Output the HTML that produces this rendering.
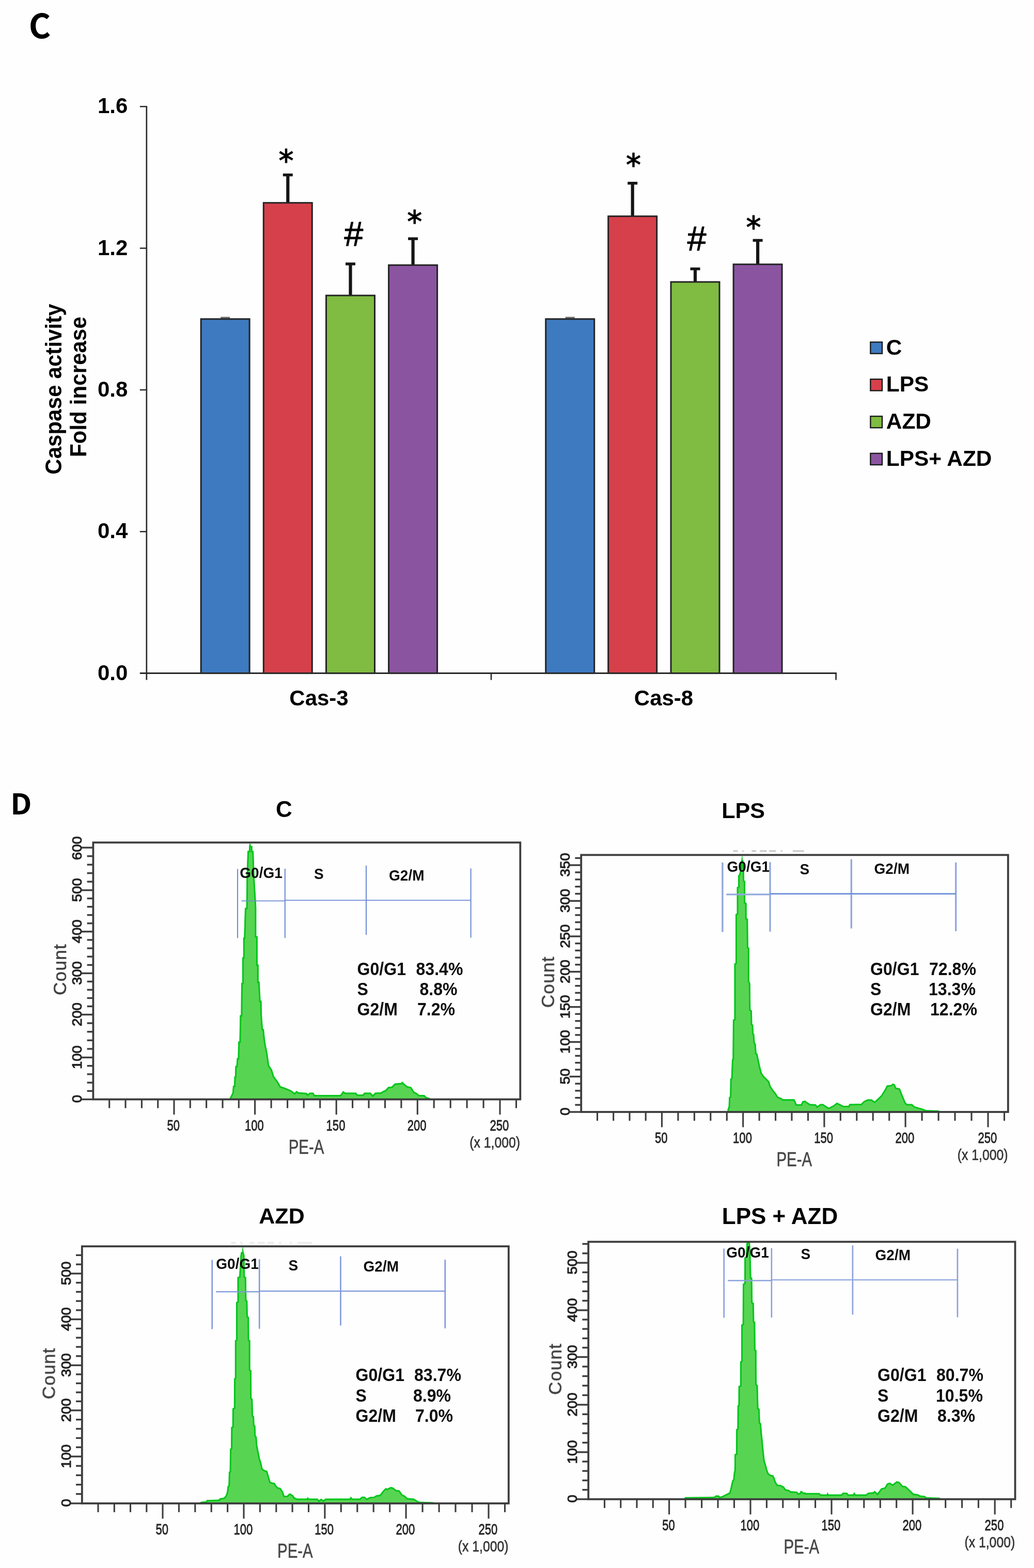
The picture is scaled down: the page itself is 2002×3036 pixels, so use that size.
<!DOCTYPE html>
<html lang="en"><head><meta charset="utf-8"><title>Figure C-D</title>
<style>html,body{margin:0;padding:0;background:#fff}body{width:2002px;height:3036px}svg{display:block;filter:blur(0.6px)}text{white-space:pre}</style>
</head><body>
<svg width="2002" height="3036" viewBox="0 0 2002 3036">
<defs><filter id="hb" x="-5%" y="-5%" width="110%" height="110%"><feGaussianBlur stdDeviation="0.5"/></filter></defs>
<rect x="-10" y="-10" width="2022" height="3056" fill="#fefefe"/>
<g id="panel-c">
<text transform="translate(55.8 74.4)" font-family="'Noto Sans CJK SC', 'Noto Sans CJK JP', 'Liberation Sans', sans-serif" font-size="65" font-weight="bold" fill="#000" text-anchor="start">C</text>
<line x1="283.8" y1="205.3" x2="283.8" y2="1316.6" stroke="#2a2a2a" stroke-width="2.7"/>
<line x1="270.8" y1="1303.6" x2="1619.8" y2="1303.6" stroke="#2a2a2a" stroke-width="3"/>
<line x1="951" y1="1303.6" x2="951" y2="1316.6" stroke="#2a2a2a" stroke-width="2.6"/>
<line x1="1618.6" y1="1303.6" x2="1618.6" y2="1316.6" stroke="#2a2a2a" stroke-width="2.6"/>
<text transform="translate(247.3 1316.6)" font-family="'Liberation Sans', Arial, Helvetica, sans-serif" font-size="42" font-weight="bold" fill="#000" text-anchor="end">0.0</text>
<line x1="270.8" y1="1029.3" x2="283.8" y2="1029.3" stroke="#2a2a2a" stroke-width="2.5"/>
<text transform="translate(247.3 1042.3)" font-family="'Liberation Sans', Arial, Helvetica, sans-serif" font-size="42" font-weight="bold" fill="#000" text-anchor="end">0.4</text>
<line x1="270.8" y1="754.9" x2="283.8" y2="754.9" stroke="#2a2a2a" stroke-width="2.5"/>
<text transform="translate(247.3 767.9)" font-family="'Liberation Sans', Arial, Helvetica, sans-serif" font-size="42" font-weight="bold" fill="#000" text-anchor="end">0.8</text>
<line x1="270.8" y1="480.6" x2="283.8" y2="480.6" stroke="#2a2a2a" stroke-width="2.5"/>
<text transform="translate(247.3 493.6)" font-family="'Liberation Sans', Arial, Helvetica, sans-serif" font-size="42" font-weight="bold" fill="#000" text-anchor="end">1.2</text>
<line x1="270.8" y1="206.3" x2="283.8" y2="206.3" stroke="#2a2a2a" stroke-width="2.5"/>
<text transform="translate(247.3 219.3)" font-family="'Liberation Sans', Arial, Helvetica, sans-serif" font-size="42" font-weight="bold" fill="#000" text-anchor="end">1.6</text>
<line x1="427.1" y1="615" x2="445.1" y2="615" stroke="#6a6a6a" stroke-width="3"/>
<rect x="389.1" y="617.7" width="94" height="685.9" fill="#3d7abf" stroke="#242424" stroke-width="3"/>
<line x1="557.3" y1="338.5" x2="557.3" y2="392.2" stroke="#151515" stroke-width="6.2"/>
<line x1="547.8" y1="338.7" x2="566.8" y2="338.7" stroke="#151515" stroke-width="5.4"/>
<rect x="510.3" y="392.7" width="94" height="910.9" fill="#d6404b" stroke="#242424" stroke-width="3"/>
<line x1="678.5" y1="510.8" x2="678.5" y2="571.6" stroke="#151515" stroke-width="6.2"/>
<line x1="669" y1="511" x2="688" y2="511" stroke="#151515" stroke-width="5.4"/>
<rect x="631.5" y="572.1" width="94" height="731.5" fill="#7fbc41" stroke="#242424" stroke-width="3"/>
<line x1="799.6" y1="462" x2="799.6" y2="512.8" stroke="#151515" stroke-width="6.2"/>
<line x1="790.1" y1="462.2" x2="809.1" y2="462.2" stroke="#151515" stroke-width="5.4"/>
<rect x="752.6" y="513.3" width="94" height="790.3" fill="#8b54a0" stroke="#242424" stroke-width="3"/>
<line x1="1094.7" y1="615" x2="1112.7" y2="615" stroke="#6a6a6a" stroke-width="3"/>
<rect x="1056.7" y="617.7" width="94" height="685.9" fill="#3d7abf" stroke="#242424" stroke-width="3"/>
<line x1="1224.7" y1="354.5" x2="1224.7" y2="418.2" stroke="#151515" stroke-width="6.2"/>
<line x1="1215.2" y1="354.7" x2="1234.2" y2="354.7" stroke="#151515" stroke-width="5.4"/>
<rect x="1177.7" y="418.7" width="94" height="884.9" fill="#d6404b" stroke="#242424" stroke-width="3"/>
<line x1="1346" y1="520.4" x2="1346" y2="545.4" stroke="#151515" stroke-width="6.2"/>
<line x1="1336.5" y1="520.6" x2="1355.5" y2="520.6" stroke="#151515" stroke-width="5.4"/>
<rect x="1299" y="545.9" width="94" height="757.7" fill="#7fbc41" stroke="#242424" stroke-width="3"/>
<line x1="1467.1" y1="465.2" x2="1467.1" y2="511.3" stroke="#151515" stroke-width="6.2"/>
<line x1="1457.6" y1="465.4" x2="1476.6" y2="465.4" stroke="#151515" stroke-width="5.4"/>
<rect x="1420.1" y="511.8" width="94" height="791.8" fill="#8b54a0" stroke="#242424" stroke-width="3"/>
<line x1="283.8" y1="1303.6" x2="1619.8" y2="1303.6" stroke="#2a2a2a" stroke-width="3"/>
<text transform="translate(554 332.3)" font-family="'DejaVu Sans', 'Liberation Sans', sans-serif" font-size="58" font-weight="normal" fill="#000" text-anchor="middle" stroke="#000" stroke-width="1.3" stroke-linejoin="round">*</text>
<text transform="translate(802.8 450)" font-family="'DejaVu Sans', 'Liberation Sans', sans-serif" font-size="58" font-weight="normal" fill="#000" text-anchor="middle" stroke="#000" stroke-width="1.3" stroke-linejoin="round">*</text>
<text transform="translate(1226.4 340)" font-family="'DejaVu Sans', 'Liberation Sans', sans-serif" font-size="58" font-weight="normal" fill="#000" text-anchor="middle" stroke="#000" stroke-width="1.3" stroke-linejoin="round">*</text>
<text transform="translate(1459 460.5)" font-family="'DejaVu Sans', 'Liberation Sans', sans-serif" font-size="58" font-weight="normal" fill="#000" text-anchor="middle" stroke="#000" stroke-width="1.3" stroke-linejoin="round">*</text>
<text transform="translate(684.8 475.8)" font-family="'Liberation Sans', Arial, Helvetica, sans-serif" font-size="66" font-weight="normal" fill="#000" text-anchor="middle" stroke="#000" stroke-width="1.2" stroke-linejoin="round">#</text>
<text transform="translate(1349 485.3)" font-family="'Liberation Sans', Arial, Helvetica, sans-serif" font-size="66" font-weight="normal" fill="#000" text-anchor="middle" stroke="#000" stroke-width="1.2" stroke-linejoin="round">#</text>
<text transform="translate(118.8 753.5) rotate(-90) scale(0.970 1)" font-family="'Liberation Sans', Arial, Helvetica, sans-serif" font-size="43.5" font-weight="bold" fill="#000" text-anchor="middle">Caspase activity</text>
<text transform="translate(167.3 749) rotate(-90) scale(0.970 1)" font-family="'Liberation Sans', Arial, Helvetica, sans-serif" font-size="43.5" font-weight="bold" fill="#000" text-anchor="middle">Fold increase</text>
<text transform="translate(617.5 1366)" font-family="'Liberation Sans', Arial, Helvetica, sans-serif" font-size="42" font-weight="bold" fill="#000" text-anchor="middle">Cas-3</text>
<text transform="translate(1285 1366)" font-family="'Liberation Sans', Arial, Helvetica, sans-serif" font-size="42" font-weight="bold" fill="#000" text-anchor="middle">Cas-8</text>
<rect x="1685.4" y="662.4" width="22.6" height="22.2" fill="#3d7abf" stroke="#1a1a1a" stroke-width="2.4"/>
<text transform="translate(1715.8 686.5) scale(1.010 1)" font-family="'Liberation Sans', Arial, Helvetica, sans-serif" font-size="42" font-weight="bold" fill="#000" text-anchor="start">C</text>
<rect x="1685.4" y="734.2" width="22.6" height="22.2" fill="#d6404b" stroke="#1a1a1a" stroke-width="2.4"/>
<text transform="translate(1715.8 758.3) scale(1.010 1)" font-family="'Liberation Sans', Arial, Helvetica, sans-serif" font-size="42" font-weight="bold" fill="#000" text-anchor="start">LPS</text>
<rect x="1685.4" y="806" width="22.6" height="22.2" fill="#7fbc41" stroke="#1a1a1a" stroke-width="2.4"/>
<text transform="translate(1715.8 830.1) scale(1.010 1)" font-family="'Liberation Sans', Arial, Helvetica, sans-serif" font-size="42" font-weight="bold" fill="#000" text-anchor="start">AZD</text>
<rect x="1685.4" y="877.8" width="22.6" height="22.2" fill="#8b54a0" stroke="#1a1a1a" stroke-width="2.4"/>
<text transform="translate(1715.8 901.9) scale(1.010 1)" font-family="'Liberation Sans', Arial, Helvetica, sans-serif" font-size="42" font-weight="bold" fill="#000" text-anchor="start">LPS+ AZD</text>
</g>
<text transform="translate(20.3 1577.4) scale(1.030 1)" font-family="'Noto Sans CJK SC', 'Noto Sans CJK JP', 'Liberation Sans', sans-serif" font-size="56" font-weight="bold" fill="#000" text-anchor="start">D</text>
<g id="hist-1">
<text transform="translate(550 1582.2)" font-family="'Liberation Sans', Arial, Helvetica, sans-serif" font-size="44" font-weight="bold" fill="#000" text-anchor="middle">C</text>
<g filter="url(#hb)">
<clipPath id="hc1"><path d="M444 2130 L444 2127.4 L449.8 2116 L451 2101.9 L453 2101.9 L453.6 2084.1 L454.9 2084.1 L455.5 2063.7 L457.4 2063.7 L458.7 2048.4 L460.4 2048.4 L461.2 2016.5 L463.4 2016.5 L464.4 1965.5 L466.4 1965.5 L467 1903 L468.9 1903 L468.9 1879.9 L468.9 1853.4 L470.8 1853.4 L470.8 1815.2 L472.3 1815.2 L474 1757.8 L476.6 1757.8 L477.2 1702.9 L479.1 1647.4 L481.7 1647.4 L482.3 1637.9 L483.6 1631.5 L483.8 1631.5 L486.1 1637.9 L488.7 1637.9 L488.7 1647.4 L491 1647.4 L493.1 1702.9 L495.7 1745 L496.3 1757.8 L496.3 1812.6 L498.9 1812.6 L498.9 1867.4 L500.8 1867.4 L500.8 1879.9 L500.8 1900.4 L502.7 1900.4 L504.6 1937.4 L506.5 1937.4 L507.2 1966.7 L509.1 1992.2 L511 1992.2 L512.9 2011.4 L514.8 2024.1 L518 2039.4 L521.2 2062.4 L526.9 2071.3 L530.8 2084.1 L538.4 2094.3 L543.5 2103.2 L551.2 2105.8 L563.9 2110.9 L570.3 2116 L574.1 2112.1 L578 2114.7 L594.5 2116 L595.6 2118.4 L599.8 2115.6 L606.8 2115.6 L609.6 2120.1 L658.8 2120.1 L664.4 2112.2 L668.6 2115.6 L689.6 2115.6 L692.4 2119.3 L702.2 2119.3 L705.1 2115.6 L717.7 2115.6 L721.9 2120.1 L726.1 2115.6 L737.3 2115.1 L741.5 2112.2 L745.7 2110.8 L751.4 2104.4 L758.4 2103.8 L764 2097.7 L776.6 2096.8 L778.6 2094 L783.6 2098.8 L789.2 2103.3 L796.2 2104.4 L801.9 2113.6 L807.5 2116.5 L811.7 2120.1 L821.5 2120.1 L825.7 2124 L832.7 2126.3 L833.3 2128.5 L833.3 2130 Z"/></clipPath>
<path d="M444 2130 L444 2127.4 L449.8 2116 L451 2101.9 L453 2101.9 L453.6 2084.1 L454.9 2084.1 L455.5 2063.7 L457.4 2063.7 L458.7 2048.4 L460.4 2048.4 L461.2 2016.5 L463.4 2016.5 L464.4 1965.5 L466.4 1965.5 L467 1903 L468.9 1903 L468.9 1879.9 L468.9 1853.4 L470.8 1853.4 L470.8 1815.2 L472.3 1815.2 L474 1757.8 L476.6 1757.8 L477.2 1702.9 L479.1 1647.4 L481.7 1647.4 L482.3 1637.9 L483.6 1631.5 L483.8 1631.5 L486.1 1637.9 L488.7 1637.9 L488.7 1647.4 L491 1647.4 L493.1 1702.9 L495.7 1745 L496.3 1757.8 L496.3 1812.6 L498.9 1812.6 L498.9 1867.4 L500.8 1867.4 L500.8 1879.9 L500.8 1900.4 L502.7 1900.4 L504.6 1937.4 L506.5 1937.4 L507.2 1966.7 L509.1 1992.2 L511 1992.2 L512.9 2011.4 L514.8 2024.1 L518 2039.4 L521.2 2062.4 L526.9 2071.3 L530.8 2084.1 L538.4 2094.3 L543.5 2103.2 L551.2 2105.8 L563.9 2110.9 L570.3 2116 L574.1 2112.1 L578 2114.7 L594.5 2116 L595.6 2118.4 L599.8 2115.6 L606.8 2115.6 L609.6 2120.1 L658.8 2120.1 L664.4 2112.2 L668.6 2115.6 L689.6 2115.6 L692.4 2119.3 L702.2 2119.3 L705.1 2115.6 L717.7 2115.6 L721.9 2120.1 L726.1 2115.6 L737.3 2115.1 L741.5 2112.2 L745.7 2110.8 L751.4 2104.4 L758.4 2103.8 L764 2097.7 L776.6 2096.8 L778.6 2094 L783.6 2098.8 L789.2 2103.3 L796.2 2104.4 L801.9 2113.6 L807.5 2116.5 L811.7 2120.1 L821.5 2120.1 L825.7 2124 L832.7 2126.3 L833.3 2128.5 L833.3 2130 Z" fill="#58d452" stroke="#06c61a" stroke-width="6" stroke-linejoin="miter" clip-path="url(#hc1)"/>
<rect x="180.4" y="1631.3" width="826.9" height="497.3" fill="none" stroke="#3d3d3d" stroke-width="3.8"/>
<line x1="157.9" y1="2128.6" x2="180.4" y2="2128.6" stroke="#3d3d3d" stroke-width="3.4"/>
<text transform="translate(158.4 2127.6) rotate(-90) scale(1.040 1)" font-family="'Liberation Sans', Arial, Helvetica, sans-serif" font-size="26.5" font-weight="normal" fill="#222" text-anchor="middle" stroke="#222" stroke-width="1.1" stroke-linejoin="round">0</text>
<line x1="168.6" y1="2112.4" x2="180.4" y2="2112.4" stroke="#3d3d3d" stroke-width="3.4"/>
<line x1="168.6" y1="2096.2" x2="180.4" y2="2096.2" stroke="#3d3d3d" stroke-width="3.4"/>
<line x1="168.6" y1="2079.9" x2="180.4" y2="2079.9" stroke="#3d3d3d" stroke-width="3.4"/>
<line x1="168.6" y1="2063.7" x2="180.4" y2="2063.7" stroke="#3d3d3d" stroke-width="3.4"/>
<line x1="157.9" y1="2047.5" x2="180.4" y2="2047.5" stroke="#3d3d3d" stroke-width="3.4"/>
<text transform="translate(158.4 2047.1) rotate(-90) scale(1.040 1)" font-family="'Liberation Sans', Arial, Helvetica, sans-serif" font-size="26.5" font-weight="normal" fill="#222" text-anchor="middle" stroke="#222" stroke-width="1.1" stroke-linejoin="round">100</text>
<line x1="168.6" y1="2030.9" x2="180.4" y2="2030.9" stroke="#3d3d3d" stroke-width="3.4"/>
<line x1="168.6" y1="2014.3" x2="180.4" y2="2014.3" stroke="#3d3d3d" stroke-width="3.4"/>
<line x1="168.6" y1="1997.7" x2="180.4" y2="1997.7" stroke="#3d3d3d" stroke-width="3.4"/>
<line x1="168.6" y1="1981.1" x2="180.4" y2="1981.1" stroke="#3d3d3d" stroke-width="3.4"/>
<line x1="157.9" y1="1964.5" x2="180.4" y2="1964.5" stroke="#3d3d3d" stroke-width="3.4"/>
<text transform="translate(158.4 1964.1) rotate(-90) scale(1.040 1)" font-family="'Liberation Sans', Arial, Helvetica, sans-serif" font-size="26.5" font-weight="normal" fill="#222" text-anchor="middle" stroke="#222" stroke-width="1.1" stroke-linejoin="round">200</text>
<line x1="168.6" y1="1948.5" x2="180.4" y2="1948.5" stroke="#3d3d3d" stroke-width="3.4"/>
<line x1="168.6" y1="1932.5" x2="180.4" y2="1932.5" stroke="#3d3d3d" stroke-width="3.4"/>
<line x1="168.6" y1="1916.5" x2="180.4" y2="1916.5" stroke="#3d3d3d" stroke-width="3.4"/>
<line x1="168.6" y1="1900.5" x2="180.4" y2="1900.5" stroke="#3d3d3d" stroke-width="3.4"/>
<line x1="157.9" y1="1884.5" x2="180.4" y2="1884.5" stroke="#3d3d3d" stroke-width="3.4"/>
<text transform="translate(158.4 1884.1) rotate(-90) scale(1.040 1)" font-family="'Liberation Sans', Arial, Helvetica, sans-serif" font-size="26.5" font-weight="normal" fill="#222" text-anchor="middle" stroke="#222" stroke-width="1.1" stroke-linejoin="round">300</text>
<line x1="168.6" y1="1868.4" x2="180.4" y2="1868.4" stroke="#3d3d3d" stroke-width="3.4"/>
<line x1="168.6" y1="1852.2" x2="180.4" y2="1852.2" stroke="#3d3d3d" stroke-width="3.4"/>
<line x1="168.6" y1="1836.1" x2="180.4" y2="1836.1" stroke="#3d3d3d" stroke-width="3.4"/>
<line x1="168.6" y1="1819.9" x2="180.4" y2="1819.9" stroke="#3d3d3d" stroke-width="3.4"/>
<line x1="157.9" y1="1803.8" x2="180.4" y2="1803.8" stroke="#3d3d3d" stroke-width="3.4"/>
<text transform="translate(158.4 1803.4) rotate(-90) scale(1.040 1)" font-family="'Liberation Sans', Arial, Helvetica, sans-serif" font-size="26.5" font-weight="normal" fill="#222" text-anchor="middle" stroke="#222" stroke-width="1.1" stroke-linejoin="round">400</text>
<line x1="168.6" y1="1787.8" x2="180.4" y2="1787.8" stroke="#3d3d3d" stroke-width="3.4"/>
<line x1="168.6" y1="1771.7" x2="180.4" y2="1771.7" stroke="#3d3d3d" stroke-width="3.4"/>
<line x1="168.6" y1="1755.7" x2="180.4" y2="1755.7" stroke="#3d3d3d" stroke-width="3.4"/>
<line x1="168.6" y1="1739.6" x2="180.4" y2="1739.6" stroke="#3d3d3d" stroke-width="3.4"/>
<line x1="157.9" y1="1723.6" x2="180.4" y2="1723.6" stroke="#3d3d3d" stroke-width="3.4"/>
<text transform="translate(158.4 1723.2) rotate(-90) scale(1.040 1)" font-family="'Liberation Sans', Arial, Helvetica, sans-serif" font-size="26.5" font-weight="normal" fill="#222" text-anchor="middle" stroke="#222" stroke-width="1.1" stroke-linejoin="round">500</text>
<line x1="168.6" y1="1707.1" x2="180.4" y2="1707.1" stroke="#3d3d3d" stroke-width="3.4"/>
<line x1="168.6" y1="1690.6" x2="180.4" y2="1690.6" stroke="#3d3d3d" stroke-width="3.4"/>
<line x1="168.6" y1="1674.2" x2="180.4" y2="1674.2" stroke="#3d3d3d" stroke-width="3.4"/>
<line x1="168.6" y1="1657.7" x2="180.4" y2="1657.7" stroke="#3d3d3d" stroke-width="3.4"/>
<line x1="157.9" y1="1641.2" x2="180.4" y2="1641.2" stroke="#3d3d3d" stroke-width="3.4"/>
<text transform="translate(158.4 1642.2) rotate(-90) scale(1.040 1)" font-family="'Liberation Sans', Arial, Helvetica, sans-serif" font-size="26.5" font-weight="normal" fill="#222" text-anchor="middle" stroke="#222" stroke-width="1.1" stroke-linejoin="round">600</text>
<line x1="211.7" y1="2128.6" x2="211.7" y2="2145.6" stroke="#3d3d3d" stroke-width="3.1"/>
<line x1="243" y1="2128.6" x2="243" y2="2145.6" stroke="#3d3d3d" stroke-width="3.1"/>
<line x1="274.4" y1="2128.6" x2="274.4" y2="2145.6" stroke="#3d3d3d" stroke-width="3.1"/>
<line x1="305.7" y1="2128.6" x2="305.7" y2="2145.6" stroke="#3d3d3d" stroke-width="3.1"/>
<line x1="337" y1="2128.6" x2="337" y2="2158.1" stroke="#3d3d3d" stroke-width="3.1"/>
<text transform="translate(335.8 2188.8) scale(0.735 1)" font-family="'Liberation Sans', Arial, Helvetica, sans-serif" font-size="30" font-weight="normal" fill="#222" text-anchor="middle" stroke="#222" stroke-width="0.8" stroke-linejoin="round">50</text>
<line x1="368.3" y1="2128.6" x2="368.3" y2="2145.6" stroke="#3d3d3d" stroke-width="3.1"/>
<line x1="399.6" y1="2128.6" x2="399.6" y2="2145.6" stroke="#3d3d3d" stroke-width="3.1"/>
<line x1="431" y1="2128.6" x2="431" y2="2145.6" stroke="#3d3d3d" stroke-width="3.1"/>
<line x1="462.3" y1="2128.6" x2="462.3" y2="2145.6" stroke="#3d3d3d" stroke-width="3.1"/>
<line x1="493.6" y1="2128.6" x2="493.6" y2="2158.1" stroke="#3d3d3d" stroke-width="3.1"/>
<text transform="translate(492.4 2188.8) scale(0.735 1)" font-family="'Liberation Sans', Arial, Helvetica, sans-serif" font-size="30" font-weight="normal" fill="#222" text-anchor="middle" stroke="#222" stroke-width="0.8" stroke-linejoin="round">100</text>
<line x1="525.1" y1="2128.6" x2="525.1" y2="2145.6" stroke="#3d3d3d" stroke-width="3.1"/>
<line x1="556.6" y1="2128.6" x2="556.6" y2="2145.6" stroke="#3d3d3d" stroke-width="3.1"/>
<line x1="588.2" y1="2128.6" x2="588.2" y2="2145.6" stroke="#3d3d3d" stroke-width="3.1"/>
<line x1="619.7" y1="2128.6" x2="619.7" y2="2145.6" stroke="#3d3d3d" stroke-width="3.1"/>
<line x1="651.2" y1="2128.6" x2="651.2" y2="2158.1" stroke="#3d3d3d" stroke-width="3.1"/>
<text transform="translate(650 2188.8) scale(0.735 1)" font-family="'Liberation Sans', Arial, Helvetica, sans-serif" font-size="30" font-weight="normal" fill="#222" text-anchor="middle" stroke="#222" stroke-width="0.8" stroke-linejoin="round">150</text>
<line x1="682.6" y1="2128.6" x2="682.6" y2="2145.6" stroke="#3d3d3d" stroke-width="3.1"/>
<line x1="714" y1="2128.6" x2="714" y2="2145.6" stroke="#3d3d3d" stroke-width="3.1"/>
<line x1="745.5" y1="2128.6" x2="745.5" y2="2145.6" stroke="#3d3d3d" stroke-width="3.1"/>
<line x1="776.9" y1="2128.6" x2="776.9" y2="2145.6" stroke="#3d3d3d" stroke-width="3.1"/>
<line x1="808.3" y1="2128.6" x2="808.3" y2="2158.1" stroke="#3d3d3d" stroke-width="3.1"/>
<text transform="translate(807.1 2188.8) scale(0.735 1)" font-family="'Liberation Sans', Arial, Helvetica, sans-serif" font-size="30" font-weight="normal" fill="#222" text-anchor="middle" stroke="#222" stroke-width="0.8" stroke-linejoin="round">200</text>
<line x1="840.2" y1="2128.6" x2="840.2" y2="2145.6" stroke="#3d3d3d" stroke-width="3.1"/>
<line x1="872.2" y1="2128.6" x2="872.2" y2="2145.6" stroke="#3d3d3d" stroke-width="3.1"/>
<line x1="904.1" y1="2128.6" x2="904.1" y2="2145.6" stroke="#3d3d3d" stroke-width="3.1"/>
<line x1="936.1" y1="2128.6" x2="936.1" y2="2145.6" stroke="#3d3d3d" stroke-width="3.1"/>
<line x1="968" y1="2128.6" x2="968" y2="2158.1" stroke="#3d3d3d" stroke-width="3.1"/>
<text transform="translate(966.8 2188.8) scale(0.735 1)" font-family="'Liberation Sans', Arial, Helvetica, sans-serif" font-size="30" font-weight="normal" fill="#222" text-anchor="middle" stroke="#222" stroke-width="0.8" stroke-linejoin="round">250</text>
<line x1="999.5" y1="2128.6" x2="999.5" y2="2145.6" stroke="#3d3d3d" stroke-width="3.1"/>
<text transform="translate(593 2234) scale(0.765 1)" font-family="'Liberation Sans', Arial, Helvetica, sans-serif" font-size="38.5" font-weight="normal" fill="#464646" text-anchor="middle" stroke="#464646" stroke-width="0.6" stroke-linejoin="round">PE-A</text>
<text transform="translate(1007 2222) scale(0.840 1)" font-family="'Liberation Sans', Arial, Helvetica, sans-serif" font-size="29.5" font-weight="normal" fill="#333" text-anchor="end" stroke="#333" stroke-width="0.6" stroke-linejoin="round">(x 1,000)</text>
<text transform="translate(128.1 1877) rotate(-90)" font-family="'Liberation Sans', Arial, Helvetica, sans-serif" font-size="35" font-weight="normal" fill="#3e3e3e" text-anchor="middle" letter-spacing="1.3" stroke="#3e3e3e" stroke-width="0.5" stroke-linejoin="round">Count</text>
</g>
<line x1="460" y1="1682.5" x2="460" y2="1816.4" stroke="#6f8bd6" stroke-width="2.1"/>
<line x1="551.8" y1="1682" x2="551.8" y2="1816" stroke="#6f8bd6" stroke-width="2.1"/>
<line x1="709" y1="1676" x2="709" y2="1810" stroke="#6f8bd6" stroke-width="2.1"/>
<line x1="911.6" y1="1681.5" x2="911.6" y2="1815.6" stroke="#6f8bd6" stroke-width="2.1"/>
<line x1="467.5" y1="1744.4" x2="551.8" y2="1744.4" stroke="#6f8bd6" stroke-width="1.9"/>
<line x1="551.8" y1="1743.1" x2="911.6" y2="1743.1" stroke="#6f8bd6" stroke-width="1.8"/>
<text transform="translate(464.3 1700.3) scale(0.950 1)" font-family="'Liberation Sans', Arial, Helvetica, sans-serif" font-size="29.5" font-weight="bold" fill="#0c0c0c" text-anchor="start">G0/G1</text>
<text transform="translate(608 1702.1) scale(0.950 1)" font-family="'Liberation Sans', Arial, Helvetica, sans-serif" font-size="29.5" font-weight="bold" fill="#0c0c0c" text-anchor="start">S</text>
<text transform="translate(753 1704.8) scale(0.950 1)" font-family="'Liberation Sans', Arial, Helvetica, sans-serif" font-size="29.5" font-weight="bold" fill="#0c0c0c" text-anchor="start">G2/M</text>
<text transform="translate(691.5 1887.8) scale(0.930 1)" font-family="'Liberation Sans', Arial, Helvetica, sans-serif" font-size="34.5" font-weight="bold" fill="#0c0c0c" text-anchor="start">G0/G1</text>
<text transform="translate(805.5 1887.8) scale(0.930 1)" font-family="'Liberation Sans', Arial, Helvetica, sans-serif" font-size="34.5" font-weight="bold" fill="#0c0c0c" text-anchor="start">83.4%</text>
<text transform="translate(691.5 1927.1) scale(0.930 1)" font-family="'Liberation Sans', Arial, Helvetica, sans-serif" font-size="34.5" font-weight="bold" fill="#0c0c0c" text-anchor="start">S</text>
<text transform="translate(812.5 1927.1) scale(0.930 1)" font-family="'Liberation Sans', Arial, Helvetica, sans-serif" font-size="34.5" font-weight="bold" fill="#0c0c0c" text-anchor="start">8.8%</text>
<text transform="translate(691.5 1966.4) scale(0.930 1)" font-family="'Liberation Sans', Arial, Helvetica, sans-serif" font-size="34.5" font-weight="bold" fill="#0c0c0c" text-anchor="start">G2/M</text>
<text transform="translate(808 1966.4) scale(0.930 1)" font-family="'Liberation Sans', Arial, Helvetica, sans-serif" font-size="34.5" font-weight="bold" fill="#0c0c0c" text-anchor="start">7.2%</text>
</g>
<g id="hist-2">
<text transform="translate(1439 1584.4)" font-family="'Liberation Sans', Arial, Helvetica, sans-serif" font-size="43" font-weight="bold" fill="#000" text-anchor="middle">LPS</text>
<rect x="1419.5" y="1646.1" width="9" height="3.6" fill="#cecece"/>
<rect x="1436.8" y="1646.1" width="3.8" height="3.6" fill="#d8d8d8"/>
<rect x="1455.3" y="1646.1" width="8.9" height="3.6" fill="#cecece"/>
<rect x="1471.2" y="1646.1" width="13.4" height="3.6" fill="#cecece"/>
<rect x="1489" y="1646.1" width="13.4" height="3.6" fill="#cecece"/>
<rect x="1511.4" y="1646.1" width="3.8" height="3.6" fill="#d8d8d8"/>
<rect x="1535" y="1646.1" width="21.7" height="3.6" fill="#cecece"/>
<g filter="url(#hb)">
<clipPath id="hc2"><path d="M1408.3 2154.4 L1408.3 2151.9 L1408.7 2147.4 L1410.6 2142.3 L1411.2 2124.5 L1413.2 2123.2 L1413.8 2088.8 L1415.7 2087.5 L1417 2051.8 L1418.3 2050.5 L1418.9 1974.6 L1421.5 1973.3 L1421.5 1899.9 L1421.5 1865.8 L1424 1864.5 L1424 1770.1 L1426.6 1768.8 L1426.6 1717.8 L1429.1 1716.5 L1429.1 1694.8 L1431 1693.6 L1433.6 1682.1 L1434.8 1665.5 L1435.5 1665.5 L1436.5 1656.6 L1437 1656.6 L1438 1665.5 L1439.3 1665.5 L1440.6 1682.1 L1441.2 1705.1 L1443.1 1706.3 L1443.1 1747.1 L1445.7 1748.4 L1445.7 1777.8 L1448.2 1779 L1448.9 1833.9 L1450.8 1835.2 L1450.8 1899.9 L1452.7 1903.8 L1453.3 1954.8 L1455.9 1956.8 L1456.5 1982.9 L1458.4 1984.2 L1459.1 2000.8 L1460.4 2002 L1461.6 2018.6 L1463.5 2021.2 L1464.8 2039 L1466.7 2040.3 L1469.3 2053.1 L1471.8 2064.5 L1475 2077.3 L1479.5 2083.7 L1485.9 2090.1 L1489.7 2093.9 L1492.2 2102.8 L1497.3 2110.5 L1502.4 2116.8 L1506.3 2123.2 L1513.9 2126.4 L1515.8 2128.3 L1538.2 2128.3 L1540.7 2133.4 L1542.6 2137.9 L1550.9 2137.9 L1553.5 2132.1 L1559.8 2130.9 L1560 2131.9 L1568.4 2137.5 L1579.6 2138.1 L1582.4 2141.7 L1588.1 2137.5 L1593.7 2137.5 L1602.1 2143.1 L1604.9 2144.5 L1613.3 2140.3 L1620.3 2134.7 L1627.3 2138.1 L1633 2140.9 L1642.8 2140.9 L1644.2 2137.5 L1662.4 2136.9 L1666.6 2137.5 L1672.2 2131.9 L1679.3 2128.5 L1687.7 2128.5 L1693.3 2132.4 L1700.3 2126.3 L1705.9 2120.7 L1712.9 2109.4 L1717.1 2101.6 L1725.6 2100.5 L1728.4 2097.7 L1732.6 2099.6 L1735.4 2106.1 L1742.4 2107.2 L1746.6 2117.9 L1753.6 2134.7 L1756.4 2137.5 L1766.2 2137.5 L1770.5 2141.7 L1778.9 2144.5 L1788.7 2147.3 L1792.9 2149.3 L1818.2 2150.1 L1819.6 2152.9 L1819.6 2154.4 Z"/></clipPath>
<path d="M1408.3 2154.4 L1408.3 2151.9 L1408.7 2147.4 L1410.6 2142.3 L1411.2 2124.5 L1413.2 2123.2 L1413.8 2088.8 L1415.7 2087.5 L1417 2051.8 L1418.3 2050.5 L1418.9 1974.6 L1421.5 1973.3 L1421.5 1899.9 L1421.5 1865.8 L1424 1864.5 L1424 1770.1 L1426.6 1768.8 L1426.6 1717.8 L1429.1 1716.5 L1429.1 1694.8 L1431 1693.6 L1433.6 1682.1 L1434.8 1665.5 L1435.5 1665.5 L1436.5 1656.6 L1437 1656.6 L1438 1665.5 L1439.3 1665.5 L1440.6 1682.1 L1441.2 1705.1 L1443.1 1706.3 L1443.1 1747.1 L1445.7 1748.4 L1445.7 1777.8 L1448.2 1779 L1448.9 1833.9 L1450.8 1835.2 L1450.8 1899.9 L1452.7 1903.8 L1453.3 1954.8 L1455.9 1956.8 L1456.5 1982.9 L1458.4 1984.2 L1459.1 2000.8 L1460.4 2002 L1461.6 2018.6 L1463.5 2021.2 L1464.8 2039 L1466.7 2040.3 L1469.3 2053.1 L1471.8 2064.5 L1475 2077.3 L1479.5 2083.7 L1485.9 2090.1 L1489.7 2093.9 L1492.2 2102.8 L1497.3 2110.5 L1502.4 2116.8 L1506.3 2123.2 L1513.9 2126.4 L1515.8 2128.3 L1538.2 2128.3 L1540.7 2133.4 L1542.6 2137.9 L1550.9 2137.9 L1553.5 2132.1 L1559.8 2130.9 L1560 2131.9 L1568.4 2137.5 L1579.6 2138.1 L1582.4 2141.7 L1588.1 2137.5 L1593.7 2137.5 L1602.1 2143.1 L1604.9 2144.5 L1613.3 2140.3 L1620.3 2134.7 L1627.3 2138.1 L1633 2140.9 L1642.8 2140.9 L1644.2 2137.5 L1662.4 2136.9 L1666.6 2137.5 L1672.2 2131.9 L1679.3 2128.5 L1687.7 2128.5 L1693.3 2132.4 L1700.3 2126.3 L1705.9 2120.7 L1712.9 2109.4 L1717.1 2101.6 L1725.6 2100.5 L1728.4 2097.7 L1732.6 2099.6 L1735.4 2106.1 L1742.4 2107.2 L1746.6 2117.9 L1753.6 2134.7 L1756.4 2137.5 L1766.2 2137.5 L1770.5 2141.7 L1778.9 2144.5 L1788.7 2147.3 L1792.9 2149.3 L1818.2 2150.1 L1819.6 2152.9 L1819.6 2154.4 Z" fill="#58d452" stroke="#06c61a" stroke-width="6" stroke-linejoin="miter" clip-path="url(#hc2)"/>
<rect x="1125.2" y="1655.4" width="826.6" height="497.6" fill="none" stroke="#3d3d3d" stroke-width="3.8"/>
<line x1="1102.7" y1="2153" x2="1125.2" y2="2153" stroke="#3d3d3d" stroke-width="3.4"/>
<text transform="translate(1103.2 2152) rotate(-90) scale(1.040 1)" font-family="'Liberation Sans', Arial, Helvetica, sans-serif" font-size="26.5" font-weight="normal" fill="#222" text-anchor="middle" stroke="#222" stroke-width="1.1" stroke-linejoin="round">0</text>
<line x1="1113.4" y1="2139.3" x2="1125.2" y2="2139.3" stroke="#3d3d3d" stroke-width="3.4"/>
<line x1="1113.4" y1="2125.6" x2="1125.2" y2="2125.6" stroke="#3d3d3d" stroke-width="3.4"/>
<line x1="1113.4" y1="2111.9" x2="1125.2" y2="2111.9" stroke="#3d3d3d" stroke-width="3.4"/>
<line x1="1113.4" y1="2098.2" x2="1125.2" y2="2098.2" stroke="#3d3d3d" stroke-width="3.4"/>
<line x1="1102.7" y1="2084.5" x2="1125.2" y2="2084.5" stroke="#3d3d3d" stroke-width="3.4"/>
<text transform="translate(1103.2 2084.1) rotate(-90) scale(1.040 1)" font-family="'Liberation Sans', Arial, Helvetica, sans-serif" font-size="26.5" font-weight="normal" fill="#222" text-anchor="middle" stroke="#222" stroke-width="1.1" stroke-linejoin="round">50</text>
<line x1="1113.4" y1="2071.1" x2="1125.2" y2="2071.1" stroke="#3d3d3d" stroke-width="3.4"/>
<line x1="1113.4" y1="2057.7" x2="1125.2" y2="2057.7" stroke="#3d3d3d" stroke-width="3.4"/>
<line x1="1113.4" y1="2044.3" x2="1125.2" y2="2044.3" stroke="#3d3d3d" stroke-width="3.4"/>
<line x1="1113.4" y1="2030.9" x2="1125.2" y2="2030.9" stroke="#3d3d3d" stroke-width="3.4"/>
<line x1="1102.7" y1="2017.5" x2="1125.2" y2="2017.5" stroke="#3d3d3d" stroke-width="3.4"/>
<text transform="translate(1103.2 2017.1) rotate(-90) scale(1.040 1)" font-family="'Liberation Sans', Arial, Helvetica, sans-serif" font-size="26.5" font-weight="normal" fill="#222" text-anchor="middle" stroke="#222" stroke-width="1.1" stroke-linejoin="round">100</text>
<line x1="1113.4" y1="2003.9" x2="1125.2" y2="2003.9" stroke="#3d3d3d" stroke-width="3.4"/>
<line x1="1113.4" y1="1990.4" x2="1125.2" y2="1990.4" stroke="#3d3d3d" stroke-width="3.4"/>
<line x1="1113.4" y1="1976.8" x2="1125.2" y2="1976.8" stroke="#3d3d3d" stroke-width="3.4"/>
<line x1="1113.4" y1="1963.3" x2="1125.2" y2="1963.3" stroke="#3d3d3d" stroke-width="3.4"/>
<line x1="1102.7" y1="1949.7" x2="1125.2" y2="1949.7" stroke="#3d3d3d" stroke-width="3.4"/>
<text transform="translate(1103.2 1949.3) rotate(-90) scale(1.040 1)" font-family="'Liberation Sans', Arial, Helvetica, sans-serif" font-size="26.5" font-weight="normal" fill="#222" text-anchor="middle" stroke="#222" stroke-width="1.1" stroke-linejoin="round">150</text>
<line x1="1113.4" y1="1936.1" x2="1125.2" y2="1936.1" stroke="#3d3d3d" stroke-width="3.4"/>
<line x1="1113.4" y1="1922.4" x2="1125.2" y2="1922.4" stroke="#3d3d3d" stroke-width="3.4"/>
<line x1="1113.4" y1="1908.8" x2="1125.2" y2="1908.8" stroke="#3d3d3d" stroke-width="3.4"/>
<line x1="1113.4" y1="1895.1" x2="1125.2" y2="1895.1" stroke="#3d3d3d" stroke-width="3.4"/>
<line x1="1102.7" y1="1881.5" x2="1125.2" y2="1881.5" stroke="#3d3d3d" stroke-width="3.4"/>
<text transform="translate(1103.2 1881.1) rotate(-90) scale(1.040 1)" font-family="'Liberation Sans', Arial, Helvetica, sans-serif" font-size="26.5" font-weight="normal" fill="#222" text-anchor="middle" stroke="#222" stroke-width="1.1" stroke-linejoin="round">200</text>
<line x1="1113.4" y1="1867.8" x2="1125.2" y2="1867.8" stroke="#3d3d3d" stroke-width="3.4"/>
<line x1="1113.4" y1="1854.1" x2="1125.2" y2="1854.1" stroke="#3d3d3d" stroke-width="3.4"/>
<line x1="1113.4" y1="1840.4" x2="1125.2" y2="1840.4" stroke="#3d3d3d" stroke-width="3.4"/>
<line x1="1113.4" y1="1826.7" x2="1125.2" y2="1826.7" stroke="#3d3d3d" stroke-width="3.4"/>
<line x1="1102.7" y1="1813" x2="1125.2" y2="1813" stroke="#3d3d3d" stroke-width="3.4"/>
<text transform="translate(1103.2 1812.6) rotate(-90) scale(1.040 1)" font-family="'Liberation Sans', Arial, Helvetica, sans-serif" font-size="26.5" font-weight="normal" fill="#222" text-anchor="middle" stroke="#222" stroke-width="1.1" stroke-linejoin="round">250</text>
<line x1="1113.4" y1="1799.3" x2="1125.2" y2="1799.3" stroke="#3d3d3d" stroke-width="3.4"/>
<line x1="1113.4" y1="1785.6" x2="1125.2" y2="1785.6" stroke="#3d3d3d" stroke-width="3.4"/>
<line x1="1113.4" y1="1771.8" x2="1125.2" y2="1771.8" stroke="#3d3d3d" stroke-width="3.4"/>
<line x1="1113.4" y1="1758.1" x2="1125.2" y2="1758.1" stroke="#3d3d3d" stroke-width="3.4"/>
<line x1="1102.7" y1="1744.4" x2="1125.2" y2="1744.4" stroke="#3d3d3d" stroke-width="3.4"/>
<text transform="translate(1103.2 1744) rotate(-90) scale(1.040 1)" font-family="'Liberation Sans', Arial, Helvetica, sans-serif" font-size="26.5" font-weight="normal" fill="#222" text-anchor="middle" stroke="#222" stroke-width="1.1" stroke-linejoin="round">300</text>
<line x1="1113.4" y1="1730.5" x2="1125.2" y2="1730.5" stroke="#3d3d3d" stroke-width="3.4"/>
<line x1="1113.4" y1="1716.7" x2="1125.2" y2="1716.7" stroke="#3d3d3d" stroke-width="3.4"/>
<line x1="1113.4" y1="1702.8" x2="1125.2" y2="1702.8" stroke="#3d3d3d" stroke-width="3.4"/>
<line x1="1113.4" y1="1689" x2="1125.2" y2="1689" stroke="#3d3d3d" stroke-width="3.4"/>
<line x1="1102.7" y1="1675.1" x2="1125.2" y2="1675.1" stroke="#3d3d3d" stroke-width="3.4"/>
<text transform="translate(1103.2 1674.5) rotate(-90) scale(1.040 1)" font-family="'Liberation Sans', Arial, Helvetica, sans-serif" font-size="26.5" font-weight="normal" fill="#222" text-anchor="middle" stroke="#222" stroke-width="1.1" stroke-linejoin="round">350</text>
<line x1="1113.4" y1="1661.4" x2="1125.2" y2="1661.4" stroke="#3d3d3d" stroke-width="3.4"/>
<line x1="1156.5" y1="2153" x2="1156.5" y2="2170" stroke="#3d3d3d" stroke-width="3.1"/>
<line x1="1187.7" y1="2153" x2="1187.7" y2="2170" stroke="#3d3d3d" stroke-width="3.1"/>
<line x1="1219" y1="2153" x2="1219" y2="2170" stroke="#3d3d3d" stroke-width="3.1"/>
<line x1="1250.2" y1="2153" x2="1250.2" y2="2170" stroke="#3d3d3d" stroke-width="3.1"/>
<line x1="1281.5" y1="2153" x2="1281.5" y2="2182.5" stroke="#3d3d3d" stroke-width="3.1"/>
<text transform="translate(1280.3 2213.2) scale(0.735 1)" font-family="'Liberation Sans', Arial, Helvetica, sans-serif" font-size="30" font-weight="normal" fill="#222" text-anchor="middle" stroke="#222" stroke-width="0.8" stroke-linejoin="round">50</text>
<line x1="1312.9" y1="2153" x2="1312.9" y2="2170" stroke="#3d3d3d" stroke-width="3.1"/>
<line x1="1344.4" y1="2153" x2="1344.4" y2="2170" stroke="#3d3d3d" stroke-width="3.1"/>
<line x1="1375.8" y1="2153" x2="1375.8" y2="2170" stroke="#3d3d3d" stroke-width="3.1"/>
<line x1="1407.3" y1="2153" x2="1407.3" y2="2170" stroke="#3d3d3d" stroke-width="3.1"/>
<line x1="1438.7" y1="2153" x2="1438.7" y2="2182.5" stroke="#3d3d3d" stroke-width="3.1"/>
<text transform="translate(1437.5 2213.2) scale(0.735 1)" font-family="'Liberation Sans', Arial, Helvetica, sans-serif" font-size="30" font-weight="normal" fill="#222" text-anchor="middle" stroke="#222" stroke-width="0.8" stroke-linejoin="round">100</text>
<line x1="1470.1" y1="2153" x2="1470.1" y2="2170" stroke="#3d3d3d" stroke-width="3.1"/>
<line x1="1501.6" y1="2153" x2="1501.6" y2="2170" stroke="#3d3d3d" stroke-width="3.1"/>
<line x1="1533" y1="2153" x2="1533" y2="2170" stroke="#3d3d3d" stroke-width="3.1"/>
<line x1="1564.5" y1="2153" x2="1564.5" y2="2170" stroke="#3d3d3d" stroke-width="3.1"/>
<line x1="1595.9" y1="2153" x2="1595.9" y2="2182.5" stroke="#3d3d3d" stroke-width="3.1"/>
<text transform="translate(1594.7 2213.2) scale(0.735 1)" font-family="'Liberation Sans', Arial, Helvetica, sans-serif" font-size="30" font-weight="normal" fill="#222" text-anchor="middle" stroke="#222" stroke-width="0.8" stroke-linejoin="round">150</text>
<line x1="1627.3" y1="2153" x2="1627.3" y2="2170" stroke="#3d3d3d" stroke-width="3.1"/>
<line x1="1658.8" y1="2153" x2="1658.8" y2="2170" stroke="#3d3d3d" stroke-width="3.1"/>
<line x1="1690.2" y1="2153" x2="1690.2" y2="2170" stroke="#3d3d3d" stroke-width="3.1"/>
<line x1="1721.7" y1="2153" x2="1721.7" y2="2170" stroke="#3d3d3d" stroke-width="3.1"/>
<line x1="1753.1" y1="2153" x2="1753.1" y2="2182.5" stroke="#3d3d3d" stroke-width="3.1"/>
<text transform="translate(1751.9 2213.2) scale(0.735 1)" font-family="'Liberation Sans', Arial, Helvetica, sans-serif" font-size="30" font-weight="normal" fill="#222" text-anchor="middle" stroke="#222" stroke-width="0.8" stroke-linejoin="round">200</text>
<line x1="1785.1" y1="2153" x2="1785.1" y2="2170" stroke="#3d3d3d" stroke-width="3.1"/>
<line x1="1817.1" y1="2153" x2="1817.1" y2="2170" stroke="#3d3d3d" stroke-width="3.1"/>
<line x1="1849" y1="2153" x2="1849" y2="2170" stroke="#3d3d3d" stroke-width="3.1"/>
<line x1="1881" y1="2153" x2="1881" y2="2170" stroke="#3d3d3d" stroke-width="3.1"/>
<line x1="1913" y1="2153" x2="1913" y2="2182.5" stroke="#3d3d3d" stroke-width="3.1"/>
<text transform="translate(1911.8 2213.2) scale(0.735 1)" font-family="'Liberation Sans', Arial, Helvetica, sans-serif" font-size="30" font-weight="normal" fill="#222" text-anchor="middle" stroke="#222" stroke-width="0.8" stroke-linejoin="round">250</text>
<line x1="1944.5" y1="2153" x2="1944.5" y2="2170" stroke="#3d3d3d" stroke-width="3.1"/>
<text transform="translate(1537.8 2258.4) scale(0.765 1)" font-family="'Liberation Sans', Arial, Helvetica, sans-serif" font-size="38.5" font-weight="normal" fill="#464646" text-anchor="middle" stroke="#464646" stroke-width="0.6" stroke-linejoin="round">PE-A</text>
<text transform="translate(1951.5 2246.4) scale(0.840 1)" font-family="'Liberation Sans', Arial, Helvetica, sans-serif" font-size="29.5" font-weight="normal" fill="#333" text-anchor="end" stroke="#333" stroke-width="0.6" stroke-linejoin="round">(x 1,000)</text>
<text transform="translate(1072.9 1901.3) rotate(-90)" font-family="'Liberation Sans', Arial, Helvetica, sans-serif" font-size="35" font-weight="normal" fill="#3e3e3e" text-anchor="middle" letter-spacing="1.3" stroke="#3e3e3e" stroke-width="0.5" stroke-linejoin="round">Count</text>
</g>
<line x1="1398.9" y1="1670" x2="1398.9" y2="1804.5" stroke="#93a9de" stroke-width="3.4"/>
<line x1="1491" y1="1669.3" x2="1491" y2="1803.9" stroke="#93a9de" stroke-width="3.4"/>
<line x1="1648.3" y1="1663.6" x2="1648.3" y2="1797.7" stroke="#93a9de" stroke-width="3.4"/>
<line x1="1850.7" y1="1670" x2="1850.7" y2="1803" stroke="#93a9de" stroke-width="3.4"/>
<line x1="1406.4" y1="1731.9" x2="1491" y2="1731.9" stroke="#93a9de" stroke-width="3.1"/>
<line x1="1491" y1="1730.6" x2="1850.7" y2="1730.6" stroke="#6d8fd9" stroke-width="2.9"/>
<text transform="translate(1407.5 1687.8) scale(0.950 1)" font-family="'Liberation Sans', Arial, Helvetica, sans-serif" font-size="29.5" font-weight="bold" fill="#0c0c0c" text-anchor="start">G0/G1</text>
<text transform="translate(1548.6 1692.7) scale(0.950 1)" font-family="'Liberation Sans', Arial, Helvetica, sans-serif" font-size="29.5" font-weight="bold" fill="#0c0c0c" text-anchor="start">S</text>
<text transform="translate(1692.5 1691.8) scale(0.950 1)" font-family="'Liberation Sans', Arial, Helvetica, sans-serif" font-size="29.5" font-weight="bold" fill="#0c0c0c" text-anchor="start">G2/M</text>
<text transform="translate(1685 1887.6) scale(0.930 1)" font-family="'Liberation Sans', Arial, Helvetica, sans-serif" font-size="34.5" font-weight="bold" fill="#0c0c0c" text-anchor="start">G0/G1</text>
<text transform="translate(1799 1887.6) scale(0.930 1)" font-family="'Liberation Sans', Arial, Helvetica, sans-serif" font-size="34.5" font-weight="bold" fill="#0c0c0c" text-anchor="start">72.8%</text>
<text transform="translate(1685 1926.9) scale(0.930 1)" font-family="'Liberation Sans', Arial, Helvetica, sans-serif" font-size="34.5" font-weight="bold" fill="#0c0c0c" text-anchor="start">S</text>
<text transform="translate(1798 1926.9) scale(0.930 1)" font-family="'Liberation Sans', Arial, Helvetica, sans-serif" font-size="34.5" font-weight="bold" fill="#0c0c0c" text-anchor="start">13.3%</text>
<text transform="translate(1685 1966.2) scale(0.930 1)" font-family="'Liberation Sans', Arial, Helvetica, sans-serif" font-size="34.5" font-weight="bold" fill="#0c0c0c" text-anchor="start">G2/M</text>
<text transform="translate(1801 1966.2) scale(0.930 1)" font-family="'Liberation Sans', Arial, Helvetica, sans-serif" font-size="34.5" font-weight="bold" fill="#0c0c0c" text-anchor="start">12.2%</text>
</g>
<g id="hist-3">
<text transform="translate(545.5 2369.2)" font-family="'Liberation Sans', Arial, Helvetica, sans-serif" font-size="43" font-weight="bold" fill="#000" text-anchor="middle">AZD</text>
<rect x="447.4" y="2404.6" width="8.9" height="3.6" fill="#ececec"/>
<rect x="465.3" y="2404.6" width="3.8" height="3.6" fill="#ececec"/>
<rect x="483.1" y="2404.6" width="8.9" height="3.6" fill="#ececec"/>
<rect x="499" y="2404.6" width="13.4" height="3.6" fill="#ececec"/>
<rect x="517.6" y="2404.6" width="12.7" height="3.6" fill="#ececec"/>
<rect x="539.9" y="2404.6" width="4.4" height="3.6" fill="#ececec"/>
<rect x="560.9" y="2404.6" width="3.8" height="3.6" fill="#ececec"/>
<rect x="576.2" y="2404.6" width="27.8" height="3.6" fill="#ececec"/>
<g filter="url(#hb)">
<clipPath id="hc3"><path d="M385.5 2912.3 L385.5 2909.4 L390 2907.4 L398.9 2906.8 L400.2 2904.3 L423.8 2903.6 L425.1 2901.1 L433.4 2899.8 L436.6 2896 L439.1 2889.6 L440.4 2878.1 L442.3 2875.6 L442.9 2850.1 L444.6 2848.8 L445.1 2805.4 L447.1 2804.1 L447.4 2763.3 L449.7 2762 L449.9 2727 L452.8 2725.7 L453.1 2668.9 L454.8 2667.7 L454.8 2659.9 L454.8 2595.2 L457 2593.9 L457 2521.2 L459.5 2519.9 L459.5 2472.7 L463 2471.4 L465.3 2431.9 L466.5 2424.2 L468.8 2424.2 L469.8 2414 L470.4 2414 L471.6 2424.2 L473.5 2430.6 L474.2 2471.4 L476.7 2472.7 L477.4 2517.3 L479.3 2518.6 L479.9 2548.6 L482.1 2549.9 L482.5 2593.9 L484.6 2595.2 L484.6 2651.9 L486.9 2653.2 L486.9 2659.9 L487.2 2707.2 L489.2 2708.5 L490.1 2741 L492 2742.3 L492.7 2759.5 L494.6 2760.8 L495.2 2779.9 L497.1 2781.8 L498.4 2799 L501 2811.8 L503.5 2824.5 L506.1 2832.2 L508.6 2843.7 L512.4 2846.2 L517.6 2848.1 L520.1 2856.4 L523.9 2869.2 L527.8 2870.5 L531.6 2871.1 L535.4 2876.8 L538.6 2880 L543.1 2880.7 L548.2 2888.3 L550.7 2896 L555.8 2896 L559.6 2892.1 L562.2 2891.5 L568.6 2896 L570 2899.1 L575.6 2901.4 L593.9 2901.4 L595.8 2898.6 L598.1 2901.4 L614.9 2901.4 L617.7 2904.7 L621.9 2901.4 L626.1 2904.7 L630.3 2901.4 L676.6 2901.4 L679.4 2897.7 L682.2 2901.4 L696.3 2901.4 L700.5 2897.7 L706.1 2897.7 L710.3 2901.4 L715.9 2898.6 L724.3 2897.7 L728.5 2894.9 L735.6 2894.1 L741.2 2886.5 L746.8 2880.9 L749.6 2882.3 L756.6 2878.9 L760.8 2880 L767.8 2885.1 L773.4 2885.6 L779.1 2893.5 L784.7 2896.3 L788.9 2900.5 L801.5 2901.4 L805.7 2904.2 L811.3 2907.5 L839.4 2908.4 L839.9 2910.9 L839.9 2912.3 Z"/></clipPath>
<path d="M385.5 2912.3 L385.5 2909.4 L390 2907.4 L398.9 2906.8 L400.2 2904.3 L423.8 2903.6 L425.1 2901.1 L433.4 2899.8 L436.6 2896 L439.1 2889.6 L440.4 2878.1 L442.3 2875.6 L442.9 2850.1 L444.6 2848.8 L445.1 2805.4 L447.1 2804.1 L447.4 2763.3 L449.7 2762 L449.9 2727 L452.8 2725.7 L453.1 2668.9 L454.8 2667.7 L454.8 2659.9 L454.8 2595.2 L457 2593.9 L457 2521.2 L459.5 2519.9 L459.5 2472.7 L463 2471.4 L465.3 2431.9 L466.5 2424.2 L468.8 2424.2 L469.8 2414 L470.4 2414 L471.6 2424.2 L473.5 2430.6 L474.2 2471.4 L476.7 2472.7 L477.4 2517.3 L479.3 2518.6 L479.9 2548.6 L482.1 2549.9 L482.5 2593.9 L484.6 2595.2 L484.6 2651.9 L486.9 2653.2 L486.9 2659.9 L487.2 2707.2 L489.2 2708.5 L490.1 2741 L492 2742.3 L492.7 2759.5 L494.6 2760.8 L495.2 2779.9 L497.1 2781.8 L498.4 2799 L501 2811.8 L503.5 2824.5 L506.1 2832.2 L508.6 2843.7 L512.4 2846.2 L517.6 2848.1 L520.1 2856.4 L523.9 2869.2 L527.8 2870.5 L531.6 2871.1 L535.4 2876.8 L538.6 2880 L543.1 2880.7 L548.2 2888.3 L550.7 2896 L555.8 2896 L559.6 2892.1 L562.2 2891.5 L568.6 2896 L570 2899.1 L575.6 2901.4 L593.9 2901.4 L595.8 2898.6 L598.1 2901.4 L614.9 2901.4 L617.7 2904.7 L621.9 2901.4 L626.1 2904.7 L630.3 2901.4 L676.6 2901.4 L679.4 2897.7 L682.2 2901.4 L696.3 2901.4 L700.5 2897.7 L706.1 2897.7 L710.3 2901.4 L715.9 2898.6 L724.3 2897.7 L728.5 2894.9 L735.6 2894.1 L741.2 2886.5 L746.8 2880.9 L749.6 2882.3 L756.6 2878.9 L760.8 2880 L767.8 2885.1 L773.4 2885.6 L779.1 2893.5 L784.7 2896.3 L788.9 2900.5 L801.5 2901.4 L805.7 2904.2 L811.3 2907.5 L839.4 2908.4 L839.9 2910.9 L839.9 2912.3 Z" fill="#58d452" stroke="#06c61a" stroke-width="6" stroke-linejoin="miter" clip-path="url(#hc3)"/>
<rect x="158.8" y="2413.2" width="826" height="497.7" fill="none" stroke="#3d3d3d" stroke-width="3.8"/>
<line x1="136.3" y1="2910.9" x2="158.8" y2="2910.9" stroke="#3d3d3d" stroke-width="3.4"/>
<text transform="translate(136.8 2909.9) rotate(-90) scale(1.040 1)" font-family="'Liberation Sans', Arial, Helvetica, sans-serif" font-size="26.5" font-weight="normal" fill="#222" text-anchor="middle" stroke="#222" stroke-width="1.1" stroke-linejoin="round">0</text>
<line x1="147" y1="2892.7" x2="158.8" y2="2892.7" stroke="#3d3d3d" stroke-width="3.4"/>
<line x1="147" y1="2874.6" x2="158.8" y2="2874.6" stroke="#3d3d3d" stroke-width="3.4"/>
<line x1="147" y1="2856.4" x2="158.8" y2="2856.4" stroke="#3d3d3d" stroke-width="3.4"/>
<line x1="147" y1="2838.3" x2="158.8" y2="2838.3" stroke="#3d3d3d" stroke-width="3.4"/>
<line x1="136.3" y1="2820.1" x2="158.8" y2="2820.1" stroke="#3d3d3d" stroke-width="3.4"/>
<text transform="translate(136.8 2819.7) rotate(-90) scale(1.040 1)" font-family="'Liberation Sans', Arial, Helvetica, sans-serif" font-size="26.5" font-weight="normal" fill="#222" text-anchor="middle" stroke="#222" stroke-width="1.1" stroke-linejoin="round">100</text>
<line x1="147" y1="2802.2" x2="158.8" y2="2802.2" stroke="#3d3d3d" stroke-width="3.4"/>
<line x1="147" y1="2784.4" x2="158.8" y2="2784.4" stroke="#3d3d3d" stroke-width="3.4"/>
<line x1="147" y1="2766.5" x2="158.8" y2="2766.5" stroke="#3d3d3d" stroke-width="3.4"/>
<line x1="147" y1="2748.7" x2="158.8" y2="2748.7" stroke="#3d3d3d" stroke-width="3.4"/>
<line x1="136.3" y1="2730.8" x2="158.8" y2="2730.8" stroke="#3d3d3d" stroke-width="3.4"/>
<text transform="translate(136.8 2730.4) rotate(-90) scale(1.040 1)" font-family="'Liberation Sans', Arial, Helvetica, sans-serif" font-size="26.5" font-weight="normal" fill="#222" text-anchor="middle" stroke="#222" stroke-width="1.1" stroke-linejoin="round">200</text>
<line x1="147" y1="2713.3" x2="158.8" y2="2713.3" stroke="#3d3d3d" stroke-width="3.4"/>
<line x1="147" y1="2695.9" x2="158.8" y2="2695.9" stroke="#3d3d3d" stroke-width="3.4"/>
<line x1="147" y1="2678.4" x2="158.8" y2="2678.4" stroke="#3d3d3d" stroke-width="3.4"/>
<line x1="147" y1="2661" x2="158.8" y2="2661" stroke="#3d3d3d" stroke-width="3.4"/>
<line x1="136.3" y1="2643.5" x2="158.8" y2="2643.5" stroke="#3d3d3d" stroke-width="3.4"/>
<text transform="translate(136.8 2643.1) rotate(-90) scale(1.040 1)" font-family="'Liberation Sans', Arial, Helvetica, sans-serif" font-size="26.5" font-weight="normal" fill="#222" text-anchor="middle" stroke="#222" stroke-width="1.1" stroke-linejoin="round">300</text>
<line x1="147" y1="2625.7" x2="158.8" y2="2625.7" stroke="#3d3d3d" stroke-width="3.4"/>
<line x1="147" y1="2607.9" x2="158.8" y2="2607.9" stroke="#3d3d3d" stroke-width="3.4"/>
<line x1="147" y1="2590.1" x2="158.8" y2="2590.1" stroke="#3d3d3d" stroke-width="3.4"/>
<line x1="147" y1="2572.3" x2="158.8" y2="2572.3" stroke="#3d3d3d" stroke-width="3.4"/>
<line x1="136.3" y1="2554.5" x2="158.8" y2="2554.5" stroke="#3d3d3d" stroke-width="3.4"/>
<text transform="translate(136.8 2554.1) rotate(-90) scale(1.040 1)" font-family="'Liberation Sans', Arial, Helvetica, sans-serif" font-size="26.5" font-weight="normal" fill="#222" text-anchor="middle" stroke="#222" stroke-width="1.1" stroke-linejoin="round">400</text>
<line x1="147" y1="2536.8" x2="158.8" y2="2536.8" stroke="#3d3d3d" stroke-width="3.4"/>
<line x1="147" y1="2519.1" x2="158.8" y2="2519.1" stroke="#3d3d3d" stroke-width="3.4"/>
<line x1="147" y1="2501.3" x2="158.8" y2="2501.3" stroke="#3d3d3d" stroke-width="3.4"/>
<line x1="147" y1="2483.6" x2="158.8" y2="2483.6" stroke="#3d3d3d" stroke-width="3.4"/>
<line x1="136.3" y1="2465.9" x2="158.8" y2="2465.9" stroke="#3d3d3d" stroke-width="3.4"/>
<text transform="translate(136.8 2465.3) rotate(-90) scale(1.040 1)" font-family="'Liberation Sans', Arial, Helvetica, sans-serif" font-size="26.5" font-weight="normal" fill="#222" text-anchor="middle" stroke="#222" stroke-width="1.1" stroke-linejoin="round">500</text>
<line x1="147" y1="2448.1" x2="158.8" y2="2448.1" stroke="#3d3d3d" stroke-width="3.4"/>
<line x1="147" y1="2430.3" x2="158.8" y2="2430.3" stroke="#3d3d3d" stroke-width="3.4"/>
<line x1="190" y1="2910.9" x2="190" y2="2927.9" stroke="#3d3d3d" stroke-width="3.1"/>
<line x1="221.3" y1="2910.9" x2="221.3" y2="2927.9" stroke="#3d3d3d" stroke-width="3.1"/>
<line x1="252.5" y1="2910.9" x2="252.5" y2="2927.9" stroke="#3d3d3d" stroke-width="3.1"/>
<line x1="283.8" y1="2910.9" x2="283.8" y2="2927.9" stroke="#3d3d3d" stroke-width="3.1"/>
<line x1="315" y1="2910.9" x2="315" y2="2940.4" stroke="#3d3d3d" stroke-width="3.1"/>
<text transform="translate(313.8 2971.1) scale(0.735 1)" font-family="'Liberation Sans', Arial, Helvetica, sans-serif" font-size="30" font-weight="normal" fill="#222" text-anchor="middle" stroke="#222" stroke-width="0.8" stroke-linejoin="round">50</text>
<line x1="346.4" y1="2910.9" x2="346.4" y2="2927.9" stroke="#3d3d3d" stroke-width="3.1"/>
<line x1="377.8" y1="2910.9" x2="377.8" y2="2927.9" stroke="#3d3d3d" stroke-width="3.1"/>
<line x1="409.2" y1="2910.9" x2="409.2" y2="2927.9" stroke="#3d3d3d" stroke-width="3.1"/>
<line x1="440.6" y1="2910.9" x2="440.6" y2="2927.9" stroke="#3d3d3d" stroke-width="3.1"/>
<line x1="472" y1="2910.9" x2="472" y2="2940.4" stroke="#3d3d3d" stroke-width="3.1"/>
<text transform="translate(470.8 2971.1) scale(0.735 1)" font-family="'Liberation Sans', Arial, Helvetica, sans-serif" font-size="30" font-weight="normal" fill="#222" text-anchor="middle" stroke="#222" stroke-width="0.8" stroke-linejoin="round">100</text>
<line x1="503.4" y1="2910.9" x2="503.4" y2="2927.9" stroke="#3d3d3d" stroke-width="3.1"/>
<line x1="534.8" y1="2910.9" x2="534.8" y2="2927.9" stroke="#3d3d3d" stroke-width="3.1"/>
<line x1="566.1" y1="2910.9" x2="566.1" y2="2927.9" stroke="#3d3d3d" stroke-width="3.1"/>
<line x1="597.5" y1="2910.9" x2="597.5" y2="2927.9" stroke="#3d3d3d" stroke-width="3.1"/>
<line x1="628.9" y1="2910.9" x2="628.9" y2="2940.4" stroke="#3d3d3d" stroke-width="3.1"/>
<text transform="translate(627.7 2971.1) scale(0.735 1)" font-family="'Liberation Sans', Arial, Helvetica, sans-serif" font-size="30" font-weight="normal" fill="#222" text-anchor="middle" stroke="#222" stroke-width="0.8" stroke-linejoin="round">150</text>
<line x1="660.3" y1="2910.9" x2="660.3" y2="2927.9" stroke="#3d3d3d" stroke-width="3.1"/>
<line x1="691.8" y1="2910.9" x2="691.8" y2="2927.9" stroke="#3d3d3d" stroke-width="3.1"/>
<line x1="723.2" y1="2910.9" x2="723.2" y2="2927.9" stroke="#3d3d3d" stroke-width="3.1"/>
<line x1="754.7" y1="2910.9" x2="754.7" y2="2927.9" stroke="#3d3d3d" stroke-width="3.1"/>
<line x1="786.1" y1="2910.9" x2="786.1" y2="2940.4" stroke="#3d3d3d" stroke-width="3.1"/>
<text transform="translate(784.9 2971.1) scale(0.735 1)" font-family="'Liberation Sans', Arial, Helvetica, sans-serif" font-size="30" font-weight="normal" fill="#222" text-anchor="middle" stroke="#222" stroke-width="0.8" stroke-linejoin="round">200</text>
<line x1="818.1" y1="2910.9" x2="818.1" y2="2927.9" stroke="#3d3d3d" stroke-width="3.1"/>
<line x1="850.1" y1="2910.9" x2="850.1" y2="2927.9" stroke="#3d3d3d" stroke-width="3.1"/>
<line x1="882" y1="2910.9" x2="882" y2="2927.9" stroke="#3d3d3d" stroke-width="3.1"/>
<line x1="914" y1="2910.9" x2="914" y2="2927.9" stroke="#3d3d3d" stroke-width="3.1"/>
<line x1="946" y1="2910.9" x2="946" y2="2940.4" stroke="#3d3d3d" stroke-width="3.1"/>
<text transform="translate(944.8 2971.1) scale(0.735 1)" font-family="'Liberation Sans', Arial, Helvetica, sans-serif" font-size="30" font-weight="normal" fill="#222" text-anchor="middle" stroke="#222" stroke-width="0.8" stroke-linejoin="round">250</text>
<line x1="977.5" y1="2910.9" x2="977.5" y2="2927.9" stroke="#3d3d3d" stroke-width="3.1"/>
<text transform="translate(571.4 3016.3) scale(0.765 1)" font-family="'Liberation Sans', Arial, Helvetica, sans-serif" font-size="38.5" font-weight="normal" fill="#464646" text-anchor="middle" stroke="#464646" stroke-width="0.6" stroke-linejoin="round">PE-A</text>
<text transform="translate(984.5 3004.3) scale(0.840 1)" font-family="'Liberation Sans', Arial, Helvetica, sans-serif" font-size="29.5" font-weight="normal" fill="#333" text-anchor="end" stroke="#333" stroke-width="0.6" stroke-linejoin="round">(x 1,000)</text>
<text transform="translate(106.5 2659.2) rotate(-90)" font-family="'Liberation Sans', Arial, Helvetica, sans-serif" font-size="35" font-weight="normal" fill="#3e3e3e" text-anchor="middle" letter-spacing="1.3" stroke="#3e3e3e" stroke-width="0.5" stroke-linejoin="round">Count</text>
</g>
<line x1="410.7" y1="2439.5" x2="410.7" y2="2573.5" stroke="#7f98da" stroke-width="2.6"/>
<line x1="502.2" y1="2438.3" x2="502.2" y2="2572.8" stroke="#7f98da" stroke-width="2.6"/>
<line x1="659.5" y1="2432.4" x2="659.5" y2="2566.5" stroke="#7f98da" stroke-width="2.6"/>
<line x1="861.8" y1="2439" x2="861.8" y2="2572" stroke="#7f98da" stroke-width="2.6"/>
<line x1="418.2" y1="2501.2" x2="502.2" y2="2501.2" stroke="#7f98da" stroke-width="2.3"/>
<line x1="502.2" y1="2499.9" x2="861.8" y2="2499.9" stroke="#7f98da" stroke-width="2.2"/>
<text transform="translate(418.3 2456.7) scale(0.950 1)" font-family="'Liberation Sans', Arial, Helvetica, sans-serif" font-size="29.5" font-weight="bold" fill="#0c0c0c" text-anchor="start">G0/G1</text>
<text transform="translate(558.6 2459.5) scale(0.950 1)" font-family="'Liberation Sans', Arial, Helvetica, sans-serif" font-size="29.5" font-weight="bold" fill="#0c0c0c" text-anchor="start">S</text>
<text transform="translate(703.5 2462) scale(0.950 1)" font-family="'Liberation Sans', Arial, Helvetica, sans-serif" font-size="29.5" font-weight="bold" fill="#0c0c0c" text-anchor="start">G2/M</text>
<text transform="translate(688.5 2674.2) scale(0.930 1)" font-family="'Liberation Sans', Arial, Helvetica, sans-serif" font-size="34.5" font-weight="bold" fill="#0c0c0c" text-anchor="start">G0/G1</text>
<text transform="translate(802 2674.2) scale(0.930 1)" font-family="'Liberation Sans', Arial, Helvetica, sans-serif" font-size="34.5" font-weight="bold" fill="#0c0c0c" text-anchor="start">83.7%</text>
<text transform="translate(688.5 2713.5) scale(0.930 1)" font-family="'Liberation Sans', Arial, Helvetica, sans-serif" font-size="34.5" font-weight="bold" fill="#0c0c0c" text-anchor="start">S</text>
<text transform="translate(800 2713.5) scale(0.930 1)" font-family="'Liberation Sans', Arial, Helvetica, sans-serif" font-size="34.5" font-weight="bold" fill="#0c0c0c" text-anchor="start">8.9%</text>
<text transform="translate(688.5 2752.8) scale(0.930 1)" font-family="'Liberation Sans', Arial, Helvetica, sans-serif" font-size="34.5" font-weight="bold" fill="#0c0c0c" text-anchor="start">G2/M</text>
<text transform="translate(804 2752.8) scale(0.930 1)" font-family="'Liberation Sans', Arial, Helvetica, sans-serif" font-size="34.5" font-weight="bold" fill="#0c0c0c" text-anchor="start">7.0%</text>
</g>
<g id="hist-4">
<text transform="translate(1510 2370.4)" font-family="'Liberation Sans', Arial, Helvetica, sans-serif" font-size="44" font-weight="bold" fill="#000" text-anchor="middle">LPS + AZD</text>
<g filter="url(#hb)">
<clipPath id="hc4"><path d="M1325.2 2904.2 L1325.2 2901.5 L1325.8 2898.7 L1380 2898.1 L1383.8 2897.4 L1385.1 2895.5 L1392.1 2895.5 L1394 2898.1 L1399.1 2896.2 L1405.5 2893 L1411.9 2889.8 L1413.8 2883.4 L1415.7 2874.5 L1417.6 2866.8 L1419.5 2864.3 L1420.8 2850.3 L1421.8 2847.7 L1422.1 2815.8 L1424.9 2814.5 L1425.3 2767.3 L1427.4 2766.1 L1427.8 2721.4 L1429.5 2720.2 L1429.7 2683.8 L1432.9 2682.5 L1432.9 2649.9 L1432.9 2636.2 L1435.1 2634.9 L1435.1 2564.7 L1437.7 2563.5 L1438 2485.7 L1441 2484.4 L1441.2 2434.6 L1443.8 2433.4 L1445.3 2405.3 L1445.6 2404.4 L1451.8 2404.4 L1452.1 2405.3 L1453.3 2421.9 L1454.6 2472.9 L1456.5 2474.2 L1457.2 2521.4 L1459.7 2522.7 L1460.4 2558.4 L1462.3 2559.6 L1462.9 2613.2 L1464.8 2614.5 L1464.8 2649.9 L1465.2 2680.6 L1467.4 2681.9 L1468.6 2726.5 L1470.8 2727.8 L1471.8 2754.6 L1473.8 2755.9 L1475 2772.4 L1476.9 2790.3 L1478.9 2812 L1480.8 2828.6 L1483.3 2836.2 L1485.9 2846.4 L1488.4 2852.8 L1492.2 2855.4 L1497.3 2856.6 L1499.9 2861.7 L1502.4 2869.4 L1505.6 2874.5 L1511.4 2875.1 L1517.8 2878.3 L1521.6 2883.4 L1528 2884.7 L1530.5 2887.2 L1543.3 2887.9 L1545.8 2891.1 L1548.4 2890.4 L1550.3 2886.6 L1552.8 2887.2 L1555.4 2889.8 L1559.8 2889.8 L1560 2890.7 L1586.7 2890.7 L1589.5 2893.5 L1600.7 2893.5 L1602.1 2889.3 L1604.3 2893.5 L1628.8 2893.5 L1631.6 2890.1 L1640 2890.1 L1642.8 2893.5 L1651.2 2893.5 L1654 2889.3 L1656.8 2893.5 L1676.5 2893.5 L1680.7 2890.1 L1690.5 2889.3 L1693.3 2886.5 L1698.9 2891.3 L1705.9 2881.7 L1712.9 2880 L1717.1 2872.5 L1722.8 2870.5 L1728.4 2873.9 L1735.4 2868.2 L1741 2868.8 L1748 2876.7 L1753.6 2877.2 L1762 2885.1 L1769.1 2892.1 L1777.5 2892.9 L1781.7 2895.5 L1790.1 2896.3 L1794.3 2899.1 L1819.6 2899.7 L1820.4 2901.9 L1820.4 2904.2 Z"/></clipPath>
<path d="M1325.2 2904.2 L1325.2 2901.5 L1325.8 2898.7 L1380 2898.1 L1383.8 2897.4 L1385.1 2895.5 L1392.1 2895.5 L1394 2898.1 L1399.1 2896.2 L1405.5 2893 L1411.9 2889.8 L1413.8 2883.4 L1415.7 2874.5 L1417.6 2866.8 L1419.5 2864.3 L1420.8 2850.3 L1421.8 2847.7 L1422.1 2815.8 L1424.9 2814.5 L1425.3 2767.3 L1427.4 2766.1 L1427.8 2721.4 L1429.5 2720.2 L1429.7 2683.8 L1432.9 2682.5 L1432.9 2649.9 L1432.9 2636.2 L1435.1 2634.9 L1435.1 2564.7 L1437.7 2563.5 L1438 2485.7 L1441 2484.4 L1441.2 2434.6 L1443.8 2433.4 L1445.3 2405.3 L1445.6 2404.4 L1451.8 2404.4 L1452.1 2405.3 L1453.3 2421.9 L1454.6 2472.9 L1456.5 2474.2 L1457.2 2521.4 L1459.7 2522.7 L1460.4 2558.4 L1462.3 2559.6 L1462.9 2613.2 L1464.8 2614.5 L1464.8 2649.9 L1465.2 2680.6 L1467.4 2681.9 L1468.6 2726.5 L1470.8 2727.8 L1471.8 2754.6 L1473.8 2755.9 L1475 2772.4 L1476.9 2790.3 L1478.9 2812 L1480.8 2828.6 L1483.3 2836.2 L1485.9 2846.4 L1488.4 2852.8 L1492.2 2855.4 L1497.3 2856.6 L1499.9 2861.7 L1502.4 2869.4 L1505.6 2874.5 L1511.4 2875.1 L1517.8 2878.3 L1521.6 2883.4 L1528 2884.7 L1530.5 2887.2 L1543.3 2887.9 L1545.8 2891.1 L1548.4 2890.4 L1550.3 2886.6 L1552.8 2887.2 L1555.4 2889.8 L1559.8 2889.8 L1560 2890.7 L1586.7 2890.7 L1589.5 2893.5 L1600.7 2893.5 L1602.1 2889.3 L1604.3 2893.5 L1628.8 2893.5 L1631.6 2890.1 L1640 2890.1 L1642.8 2893.5 L1651.2 2893.5 L1654 2889.3 L1656.8 2893.5 L1676.5 2893.5 L1680.7 2890.1 L1690.5 2889.3 L1693.3 2886.5 L1698.9 2891.3 L1705.9 2881.7 L1712.9 2880 L1717.1 2872.5 L1722.8 2870.5 L1728.4 2873.9 L1735.4 2868.2 L1741 2868.8 L1748 2876.7 L1753.6 2877.2 L1762 2885.1 L1769.1 2892.1 L1777.5 2892.9 L1781.7 2895.5 L1790.1 2896.3 L1794.3 2899.1 L1819.6 2899.7 L1820.4 2901.9 L1820.4 2904.2 Z" fill="#58d452" stroke="#06c61a" stroke-width="6" stroke-linejoin="miter" clip-path="url(#hc4)"/>
<rect x="1139.2" y="2404.4" width="826.3" height="498.4" fill="none" stroke="#3d3d3d" stroke-width="3.8"/>
<line x1="1116.7" y1="2902.8" x2="1139.2" y2="2902.8" stroke="#3d3d3d" stroke-width="3.4"/>
<text transform="translate(1117.2 2901.8) rotate(-90) scale(1.040 1)" font-family="'Liberation Sans', Arial, Helvetica, sans-serif" font-size="26.5" font-weight="normal" fill="#222" text-anchor="middle" stroke="#222" stroke-width="1.1" stroke-linejoin="round">0</text>
<line x1="1127.4" y1="2884.6" x2="1139.2" y2="2884.6" stroke="#3d3d3d" stroke-width="3.4"/>
<line x1="1127.4" y1="2866.4" x2="1139.2" y2="2866.4" stroke="#3d3d3d" stroke-width="3.4"/>
<line x1="1127.4" y1="2848.1" x2="1139.2" y2="2848.1" stroke="#3d3d3d" stroke-width="3.4"/>
<line x1="1127.4" y1="2829.9" x2="1139.2" y2="2829.9" stroke="#3d3d3d" stroke-width="3.4"/>
<line x1="1116.7" y1="2811.7" x2="1139.2" y2="2811.7" stroke="#3d3d3d" stroke-width="3.4"/>
<text transform="translate(1117.2 2811.3) rotate(-90) scale(1.040 1)" font-family="'Liberation Sans', Arial, Helvetica, sans-serif" font-size="26.5" font-weight="normal" fill="#222" text-anchor="middle" stroke="#222" stroke-width="1.1" stroke-linejoin="round">100</text>
<line x1="1127.4" y1="2793.3" x2="1139.2" y2="2793.3" stroke="#3d3d3d" stroke-width="3.4"/>
<line x1="1127.4" y1="2775" x2="1139.2" y2="2775" stroke="#3d3d3d" stroke-width="3.4"/>
<line x1="1127.4" y1="2756.6" x2="1139.2" y2="2756.6" stroke="#3d3d3d" stroke-width="3.4"/>
<line x1="1127.4" y1="2738.3" x2="1139.2" y2="2738.3" stroke="#3d3d3d" stroke-width="3.4"/>
<line x1="1116.7" y1="2719.9" x2="1139.2" y2="2719.9" stroke="#3d3d3d" stroke-width="3.4"/>
<text transform="translate(1117.2 2719.5) rotate(-90) scale(1.040 1)" font-family="'Liberation Sans', Arial, Helvetica, sans-serif" font-size="26.5" font-weight="normal" fill="#222" text-anchor="middle" stroke="#222" stroke-width="1.1" stroke-linejoin="round">200</text>
<line x1="1127.4" y1="2701.4" x2="1139.2" y2="2701.4" stroke="#3d3d3d" stroke-width="3.4"/>
<line x1="1127.4" y1="2682.9" x2="1139.2" y2="2682.9" stroke="#3d3d3d" stroke-width="3.4"/>
<line x1="1127.4" y1="2664.5" x2="1139.2" y2="2664.5" stroke="#3d3d3d" stroke-width="3.4"/>
<line x1="1127.4" y1="2646" x2="1139.2" y2="2646" stroke="#3d3d3d" stroke-width="3.4"/>
<line x1="1116.7" y1="2627.5" x2="1139.2" y2="2627.5" stroke="#3d3d3d" stroke-width="3.4"/>
<text transform="translate(1117.2 2627.1) rotate(-90) scale(1.040 1)" font-family="'Liberation Sans', Arial, Helvetica, sans-serif" font-size="26.5" font-weight="normal" fill="#222" text-anchor="middle" stroke="#222" stroke-width="1.1" stroke-linejoin="round">300</text>
<line x1="1127.4" y1="2609.4" x2="1139.2" y2="2609.4" stroke="#3d3d3d" stroke-width="3.4"/>
<line x1="1127.4" y1="2591.3" x2="1139.2" y2="2591.3" stroke="#3d3d3d" stroke-width="3.4"/>
<line x1="1127.4" y1="2573.1" x2="1139.2" y2="2573.1" stroke="#3d3d3d" stroke-width="3.4"/>
<line x1="1127.4" y1="2555" x2="1139.2" y2="2555" stroke="#3d3d3d" stroke-width="3.4"/>
<line x1="1116.7" y1="2536.9" x2="1139.2" y2="2536.9" stroke="#3d3d3d" stroke-width="3.4"/>
<text transform="translate(1117.2 2536.5) rotate(-90) scale(1.040 1)" font-family="'Liberation Sans', Arial, Helvetica, sans-serif" font-size="26.5" font-weight="normal" fill="#222" text-anchor="middle" stroke="#222" stroke-width="1.1" stroke-linejoin="round">400</text>
<line x1="1127.4" y1="2518.5" x2="1139.2" y2="2518.5" stroke="#3d3d3d" stroke-width="3.4"/>
<line x1="1127.4" y1="2500.2" x2="1139.2" y2="2500.2" stroke="#3d3d3d" stroke-width="3.4"/>
<line x1="1127.4" y1="2481.8" x2="1139.2" y2="2481.8" stroke="#3d3d3d" stroke-width="3.4"/>
<line x1="1127.4" y1="2463.5" x2="1139.2" y2="2463.5" stroke="#3d3d3d" stroke-width="3.4"/>
<line x1="1116.7" y1="2445.1" x2="1139.2" y2="2445.1" stroke="#3d3d3d" stroke-width="3.4"/>
<text transform="translate(1117.2 2444.5) rotate(-90) scale(1.040 1)" font-family="'Liberation Sans', Arial, Helvetica, sans-serif" font-size="26.5" font-weight="normal" fill="#222" text-anchor="middle" stroke="#222" stroke-width="1.1" stroke-linejoin="round">500</text>
<line x1="1127.4" y1="2426.8" x2="1139.2" y2="2426.8" stroke="#3d3d3d" stroke-width="3.4"/>
<line x1="1127.4" y1="2408.5" x2="1139.2" y2="2408.5" stroke="#3d3d3d" stroke-width="3.4"/>
<line x1="1170.5" y1="2902.8" x2="1170.5" y2="2919.8" stroke="#3d3d3d" stroke-width="3.1"/>
<line x1="1201.8" y1="2902.8" x2="1201.8" y2="2919.8" stroke="#3d3d3d" stroke-width="3.1"/>
<line x1="1233" y1="2902.8" x2="1233" y2="2919.8" stroke="#3d3d3d" stroke-width="3.1"/>
<line x1="1264.3" y1="2902.8" x2="1264.3" y2="2919.8" stroke="#3d3d3d" stroke-width="3.1"/>
<line x1="1295.6" y1="2902.8" x2="1295.6" y2="2932.3" stroke="#3d3d3d" stroke-width="3.1"/>
<text transform="translate(1294.4 2963) scale(0.735 1)" font-family="'Liberation Sans', Arial, Helvetica, sans-serif" font-size="30" font-weight="normal" fill="#222" text-anchor="middle" stroke="#222" stroke-width="0.8" stroke-linejoin="round">50</text>
<line x1="1327.1" y1="2902.8" x2="1327.1" y2="2919.8" stroke="#3d3d3d" stroke-width="3.1"/>
<line x1="1358.6" y1="2902.8" x2="1358.6" y2="2919.8" stroke="#3d3d3d" stroke-width="3.1"/>
<line x1="1390" y1="2902.8" x2="1390" y2="2919.8" stroke="#3d3d3d" stroke-width="3.1"/>
<line x1="1421.5" y1="2902.8" x2="1421.5" y2="2919.8" stroke="#3d3d3d" stroke-width="3.1"/>
<line x1="1453" y1="2902.8" x2="1453" y2="2932.3" stroke="#3d3d3d" stroke-width="3.1"/>
<text transform="translate(1451.8 2963) scale(0.735 1)" font-family="'Liberation Sans', Arial, Helvetica, sans-serif" font-size="30" font-weight="normal" fill="#222" text-anchor="middle" stroke="#222" stroke-width="0.8" stroke-linejoin="round">100</text>
<line x1="1484.4" y1="2902.8" x2="1484.4" y2="2919.8" stroke="#3d3d3d" stroke-width="3.1"/>
<line x1="1515.8" y1="2902.8" x2="1515.8" y2="2919.8" stroke="#3d3d3d" stroke-width="3.1"/>
<line x1="1547.2" y1="2902.8" x2="1547.2" y2="2919.8" stroke="#3d3d3d" stroke-width="3.1"/>
<line x1="1578.6" y1="2902.8" x2="1578.6" y2="2919.8" stroke="#3d3d3d" stroke-width="3.1"/>
<line x1="1610" y1="2902.8" x2="1610" y2="2932.3" stroke="#3d3d3d" stroke-width="3.1"/>
<text transform="translate(1608.8 2963) scale(0.735 1)" font-family="'Liberation Sans', Arial, Helvetica, sans-serif" font-size="30" font-weight="normal" fill="#222" text-anchor="middle" stroke="#222" stroke-width="0.8" stroke-linejoin="round">150</text>
<line x1="1641.4" y1="2902.8" x2="1641.4" y2="2919.8" stroke="#3d3d3d" stroke-width="3.1"/>
<line x1="1672.8" y1="2902.8" x2="1672.8" y2="2919.8" stroke="#3d3d3d" stroke-width="3.1"/>
<line x1="1704.3" y1="2902.8" x2="1704.3" y2="2919.8" stroke="#3d3d3d" stroke-width="3.1"/>
<line x1="1735.7" y1="2902.8" x2="1735.7" y2="2919.8" stroke="#3d3d3d" stroke-width="3.1"/>
<line x1="1767.1" y1="2902.8" x2="1767.1" y2="2932.3" stroke="#3d3d3d" stroke-width="3.1"/>
<text transform="translate(1765.9 2963) scale(0.735 1)" font-family="'Liberation Sans', Arial, Helvetica, sans-serif" font-size="30" font-weight="normal" fill="#222" text-anchor="middle" stroke="#222" stroke-width="0.8" stroke-linejoin="round">200</text>
<line x1="1798.9" y1="2902.8" x2="1798.9" y2="2919.8" stroke="#3d3d3d" stroke-width="3.1"/>
<line x1="1830.7" y1="2902.8" x2="1830.7" y2="2919.8" stroke="#3d3d3d" stroke-width="3.1"/>
<line x1="1862.6" y1="2902.8" x2="1862.6" y2="2919.8" stroke="#3d3d3d" stroke-width="3.1"/>
<line x1="1894.4" y1="2902.8" x2="1894.4" y2="2919.8" stroke="#3d3d3d" stroke-width="3.1"/>
<line x1="1926.2" y1="2902.8" x2="1926.2" y2="2932.3" stroke="#3d3d3d" stroke-width="3.1"/>
<text transform="translate(1925 2963) scale(0.735 1)" font-family="'Liberation Sans', Arial, Helvetica, sans-serif" font-size="30" font-weight="normal" fill="#222" text-anchor="middle" stroke="#222" stroke-width="0.8" stroke-linejoin="round">250</text>
<line x1="1957.7" y1="2902.8" x2="1957.7" y2="2919.8" stroke="#3d3d3d" stroke-width="3.1"/>
<text transform="translate(1551.8 3008.2) scale(0.765 1)" font-family="'Liberation Sans', Arial, Helvetica, sans-serif" font-size="38.5" font-weight="normal" fill="#464646" text-anchor="middle" stroke="#464646" stroke-width="0.6" stroke-linejoin="round">PE-A</text>
<text transform="translate(1965.2 2996.2) scale(0.840 1)" font-family="'Liberation Sans', Arial, Helvetica, sans-serif" font-size="29.5" font-weight="normal" fill="#333" text-anchor="end" stroke="#333" stroke-width="0.6" stroke-linejoin="round">(x 1,000)</text>
<text transform="translate(1086.9 2650.7) rotate(-90)" font-family="'Liberation Sans', Arial, Helvetica, sans-serif" font-size="35" font-weight="normal" fill="#3e3e3e" text-anchor="middle" letter-spacing="1.3" stroke="#3e3e3e" stroke-width="0.5" stroke-linejoin="round">Count</text>
</g>
<line x1="1401.7" y1="2417.4" x2="1401.7" y2="2551.4" stroke="#8aa0dc" stroke-width="2.6"/>
<line x1="1493.9" y1="2416.8" x2="1493.9" y2="2551" stroke="#8aa0dc" stroke-width="2.6"/>
<line x1="1650.9" y1="2411.3" x2="1650.9" y2="2545.4" stroke="#8aa0dc" stroke-width="2.6"/>
<line x1="1853.9" y1="2417.7" x2="1853.9" y2="2550.5" stroke="#8aa0dc" stroke-width="2.6"/>
<line x1="1409.2" y1="2479.5" x2="1493.9" y2="2479.5" stroke="#8aa0dc" stroke-width="2.3"/>
<line x1="1493.9" y1="2478.2" x2="1853.9" y2="2478.2" stroke="#8fa6de" stroke-width="2.2"/>
<text transform="translate(1406.3 2434.9) scale(0.950 1)" font-family="'Liberation Sans', Arial, Helvetica, sans-serif" font-size="29.5" font-weight="bold" fill="#0c0c0c" text-anchor="start">G0/G1</text>
<text transform="translate(1550.5 2437.5) scale(0.950 1)" font-family="'Liberation Sans', Arial, Helvetica, sans-serif" font-size="29.5" font-weight="bold" fill="#0c0c0c" text-anchor="start">S</text>
<text transform="translate(1694.5 2439.5) scale(0.950 1)" font-family="'Liberation Sans', Arial, Helvetica, sans-serif" font-size="29.5" font-weight="bold" fill="#0c0c0c" text-anchor="start">G2/M</text>
<text transform="translate(1699 2674.2) scale(0.930 1)" font-family="'Liberation Sans', Arial, Helvetica, sans-serif" font-size="34.5" font-weight="bold" fill="#0c0c0c" text-anchor="start">G0/G1</text>
<text transform="translate(1813 2674.2) scale(0.930 1)" font-family="'Liberation Sans', Arial, Helvetica, sans-serif" font-size="34.5" font-weight="bold" fill="#0c0c0c" text-anchor="start">80.7%</text>
<text transform="translate(1699 2713.5) scale(0.930 1)" font-family="'Liberation Sans', Arial, Helvetica, sans-serif" font-size="34.5" font-weight="bold" fill="#0c0c0c" text-anchor="start">S</text>
<text transform="translate(1812 2713.5) scale(0.930 1)" font-family="'Liberation Sans', Arial, Helvetica, sans-serif" font-size="34.5" font-weight="bold" fill="#0c0c0c" text-anchor="start">10.5%</text>
<text transform="translate(1699 2752.8) scale(0.930 1)" font-family="'Liberation Sans', Arial, Helvetica, sans-serif" font-size="34.5" font-weight="bold" fill="#0c0c0c" text-anchor="start">G2/M</text>
<text transform="translate(1815 2752.8) scale(0.930 1)" font-family="'Liberation Sans', Arial, Helvetica, sans-serif" font-size="34.5" font-weight="bold" fill="#0c0c0c" text-anchor="start">8.3%</text>
</g>
</svg></body></html>
